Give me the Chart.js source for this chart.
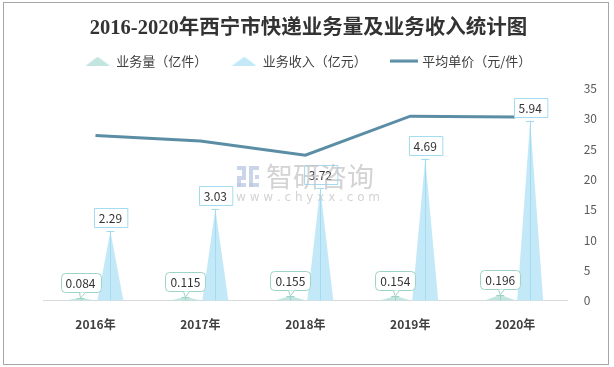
<!DOCTYPE html>
<html>
<head>
<meta charset="utf-8">
<script src="https://cdn.jsdelivr.net/npm/chart.js@4.4.1/dist/chart.umd.min.js"></script>
<style>
  html, body { margin: 0; padding: 0; background: #fff; }
  #wrap { position: relative; width: 614px; height: 367px; }
</style>
</head>
<body>
<div id="wrap"><canvas id="express-chart"></canvas></div>
<script>
// 2016-2020 西宁市快递业务量及业务收入
var years = ['2016年', '2017年', '2018年', '2019年', '2020年'];
var volume = [0.084, 0.115, 0.155, 0.154, 0.196];     // 业务量（亿件）
var revenue = [2.29, 3.03, 3.72, 4.69, 5.94];         // 业务收入（亿元）
var unitPrice = [27.26, 26.35, 24.0, 30.45, 30.31];   // 平均单价（元/件）
var priceTicks = [0, 5, 10, 15, 20, 25, 30, 35];

var greenFill = '#c2e6df';
var greenLine = '#9ed4c7';
var blueFill = '#c3e9f8';
var blueLine = '#a3dcf1';
var priceColor = '#5b8ea5';
var labelFont = '12px "Noto Sans CJK SC", sans-serif';
var legendGap = 11;

function legendIcon(kind, color) {
	var c = document.createElement('canvas');
	var ctx = c.getContext('2d');
	if (kind === 'line') {
		c.width = 28; c.height = 4;
		ctx.fillStyle = color;
		ctx.fillRect(0, 0.5, 28, 3);
	} else {
		c.width = 24; c.height = 9;
		ctx.fillStyle = color;
		ctx.beginPath();
		ctx.moveTo(0, 9);
		ctx.lineTo(12, 0);
		ctx.lineTo(24, 9);
		ctx.closePath();
		ctx.fill();
	}
	return c;
}

// more room between legend and plot
const legendGapPlugin = {
	id: 'legendGap',
	beforeInit(chart) {
		var fit = chart.legend.fit;
		chart.legend.fit = function () {
			fit.bind(chart.legend)();
			this.height += legendGap;
		};
	}
};

// bars are drawn as thin pyramids standing on the bar's base
const pyramidPlugin = {
	id: 'pyramids',
	afterDatasetDraw(chart, args) {
		var ds = chart.data.datasets[args.index];
		if (ds.type !== 'bar') return;
		var ctx = chart.ctx;
		args.meta.data.forEach(function (el) {
			var p = el.getProps(['x', 'y', 'base', 'width'], true);
			ctx.save();
			ctx.fillStyle = ds.pyramidColor;
			ctx.beginPath();
			ctx.moveTo(p.x - p.width / 2, p.base);
			ctx.lineTo(p.x, p.y);
			ctx.lineTo(p.x + p.width / 2, p.base);
			ctx.closePath();
			ctx.fill();
			// leader line with cap
			ctx.strokeStyle = ds.labelBorder;
			ctx.lineWidth = 1;
			ctx.beginPath();
			ctx.moveTo(Math.round(p.x) + 0.5, p.base);
			ctx.lineTo(Math.round(p.x) + 0.5, p.y);
			ctx.moveTo(p.x - 4, Math.round(p.y) + 0.5);
			ctx.lineTo(p.x + 4, Math.round(p.y) + 0.5);
			ctx.stroke();
			ctx.restore();
		});
	}
};

function roundRect(ctx, x, y, w, h, r) {
	ctx.moveTo(x + r, y);
	ctx.lineTo(x + w - r, y);
	ctx.quadraticCurveTo(x + w, y, x + w, y + r);
	ctx.lineTo(x + w, y + h - r);
	ctx.quadraticCurveTo(x + w, y + h, x + w - r, y + h);
	ctx.lineTo(x + r, y + h);
	ctx.quadraticCurveTo(x, y + h, x, y + h - r);
	ctx.lineTo(x, y + r);
	ctx.quadraticCurveTo(x, y, x + r, y);
}

const boxLabelPlugin = {
	id: 'boxLabels',
	afterDatasetsDraw(chart) {
		var ctx = chart.ctx;
		ctx.save();
		ctx.font = labelFont;
		ctx.textAlign = 'center';
		ctx.textBaseline = 'middle';
		chart.data.datasets.forEach(function (ds, i) {
			if (ds.type !== 'bar') return;
			var meta = chart.getDatasetMeta(i);
			meta.data.forEach(function (el, j) {
				var txt = String(ds.data[j]);
				var w = ctx.measureText(txt).width + 10;
				var h = 19;
				var x = Math.round(el.x - w / 2) + 0.5;
				var y;
				ctx.beginPath();
				if (ds.rounded) {
					y = Math.round(el.y - 6 - h) + 0.5;
					roundRect(ctx, x, y, w, h, 4);
				} else {
					y = Math.round(el.y - 4 - h) + 0.5;
					ctx.rect(x, y, w, h);
				}
				ctx.fillStyle = '#fff';
				ctx.fill();
				ctx.strokeStyle = ds.labelBorder;
				ctx.lineWidth = 1;
				ctx.stroke();
				if (ds.rounded) {
					// small callout wedge toward the point
					ctx.beginPath();
					ctx.moveTo(x + w * 0.45, y + h);
					ctx.lineTo(el.x, el.y);
					ctx.lineTo(x + w * 0.6, y + h);
					ctx.fillStyle = '#fff';
					ctx.fill();
					ctx.stroke();
				}
				ctx.fillStyle = '#333';
				ctx.fillText(txt, el.x, y + h / 2 + 0.5);
			});
		});
		ctx.restore();
	}
};

const frameAndMarkPlugin = {
	id: 'frameAndMark',
	beforeDraw(chart) {
		var ctx = chart.ctx;
		ctx.save();
		ctx.fillStyle = '#fff';
		ctx.fillRect(0, 0, chart.width, chart.height);
		ctx.strokeStyle = '#a6a6a6';
		ctx.lineWidth = 1;
		ctx.strokeRect(3.5, 2.5, 605, 362);
		ctx.restore();
	},
	afterDraw(chart) {
		var ctx = chart.ctx;
		ctx.save();
		ctx.globalAlpha = 0.75;
		// logo blocks
		ctx.fillStyle = '#b9c7e2';
		ctx.fillRect(237, 166, 9, 4);
		ctx.fillRect(242, 170, 4, 6);
		ctx.fillRect(237, 176, 9, 4);
		ctx.fillRect(237, 180, 4, 7);
		ctx.fillRect(237, 183, 9, 4);
		ctx.fillRect(249, 166, 10, 4);
		ctx.fillRect(249, 170, 4, 17);
		ctx.fillRect(249, 183, 10, 4);
		ctx.fillRect(255, 175, 4, 4);
		ctx.fillStyle = '#c4c4c4';
		ctx.font = '27px "Noto Sans CJK SC", sans-serif';
		ctx.textBaseline = 'middle';
		ctx.fillText('智研咨询', 266, 177);
		ctx.font = '12px "DejaVu Sans", sans-serif';
		ctx.fillText('w w w . c h y x x . c o m', 236, 198);
		ctx.restore();
	}
};

new Chart(document.getElementById('express-chart'), {
	data: {
		labels: years,
		datasets: [
			{
				type: 'line',
				label: '平均单价（元/件）',
				data: unitPrice,
				yAxisID: 'yPrice',
				borderColor: priceColor,
				backgroundColor: priceColor,
				borderWidth: 3,
				pointRadius: 0,
				tension: 0,
				order: 0
			},
			{
				type: 'bar',
				label: '业务量（亿件）',
				data: volume,
				yAxisID: 'yAmount',
				backgroundColor: 'rgba(0,0,0,0)',
				pyramidColor: greenFill,
				labelBorder: greenLine,
				rounded: true,
				barPercentage: 1.05,
				categoryPercentage: 0.57,
				order: 1
			},
			{
				type: 'bar',
				label: '业务收入（亿元）',
				data: revenue,
				yAxisID: 'yAmount',
				backgroundColor: 'rgba(0,0,0,0)',
				pyramidColor: blueFill,
				labelBorder: blueLine,
				rounded: false,
				barPercentage: 0.87,
				categoryPercentage: 0.57,
				order: 2
			}
		]
	},
	plugins: [legendGapPlugin, frameAndMarkPlugin, pyramidPlugin, boxLabelPlugin],
	options: {
		responsive: true,
		maintainAspectRatio: false,
		animation: false,
		layout: { padding: { left: 4, right: 1, top: 10, bottom: 26 } },
		plugins: {
			title: {
				display: true,
				text: '2016-2020年西宁市快递业务量及业务收入统计图',
				color: '#333',
				font: { family: '"Liberation Serif", "Noto Sans CJK SC", serif', size: 20.5, weight: 'bold' },
				padding: { top: 6, bottom: -11 }
			},
			legend: {
				position: 'top',
				labels: {
					usePointStyle: true,
					pointStyleWidth: 24,
					padding: 25,
					color: '#404040',
					font: { family: '"Noto Sans CJK SC", sans-serif', size: 13 },
					generateLabels: function (chart) {
						var order = [1, 2, 0];
						return order.map(function (i) {
							var ds = chart.data.datasets[i];
							var icon = ds.type === 'line' ? legendIcon('line', priceColor) : legendIcon('tri', ds.pyramidColor);
							return { text: ds.label, pointStyle: icon, datasetIndex: i, fontColor: '#404040', lineWidth: 0, strokeStyle: 'rgba(0,0,0,0)', fillStyle: 'rgba(0,0,0,0)' };
						});
					}
				}
			},
			tooltip: { enabled: false }
		},
		scales: {
			x: {
				grid: { display: false },
				border: { color: '#d9d9d9' },
				ticks: {
					color: '#404040',
					padding: 9,
					font: { family: '"Noto Sans CJK SC", sans-serif', size: 12, weight: 'bold' }
				}
			},
			yAmount: {
				position: 'left',
				min: 0,
				max: 7,
				grid: { display: false },
				border: { display: false },
				ticks: { display: false },
				afterFit: function (axis) { axis.width = 39; }
			},
			yPrice: {
				position: 'right',
				min: 0,
				max: 35,
				afterBuildTicks: function (axis) {
					axis.ticks = priceTicks.map(function (v) { return { value: v }; });
				},
				grid: { display: false, drawTicks: false },
				border: { display: false },
				ticks: {
					color: '#595959',
					padding: 16,
					font: { family: '"Noto Sans CJK SC", sans-serif', size: 12 }
				}
			}
		}
	}
});
</script>
</body>
</html>
